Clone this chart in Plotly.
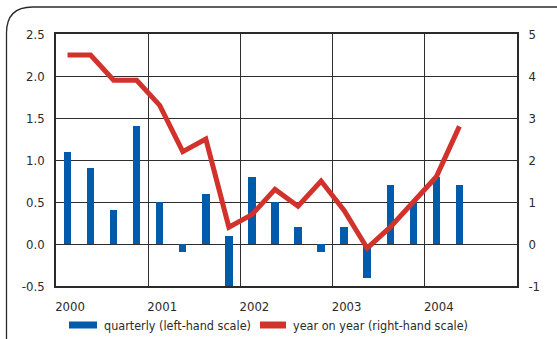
import plotly.graph_objects as go

# Quarterly growth (left scale) and year-on-year growth (right scale)
quarters = ["2000Q1", "2000Q2", "2000Q3", "2000Q4",
            "2001Q1", "2001Q2", "2001Q3", "2001Q4",
            "2002Q1", "2002Q2", "2002Q3", "2002Q4",
            "2003Q1", "2003Q2", "2003Q3", "2003Q4",
            "2004Q1", "2004Q2"]
quarterly = [1.1, 0.9, 0.4, 1.4,
             0.5, -0.1, 0.6, -0.7,
             0.8, 0.5, 0.2, -0.1,
             0.2, -0.4, 0.7, 0.5,
             0.8, 0.7]
quarterly_base = [0, 0, 0, 0,
                  0, 0, 0, 0.1,
                  0, 0, 0, 0,
                  0, 0, 0, 0,
                  0, 0]
year_on_year = [4.5, 4.5, 3.9, 3.9,
                3.3, 2.2, 2.5, 0.4,
                0.7, 1.3, 0.9, 1.5,
                0.8, -0.1, 0.4, 1.0,
                1.6, 2.8]
year_ticks = [2000, 2001, 2002, 2003, 2004]
left_ticks = [-0.5, 0.0, 0.5, 1.0, 1.5, 2.0, 2.5]
right_ticks = [-1, 0, 1, 2, 3, 4, 5]
legend_labels = ["quarterly (left-hand scale)", "year on year (right-hand scale)"]

BLUE = "#005BAA"
RED = "#D2322C"
INK = "#2a2a2a"
GRID = "#2e2e2e"
FONT = "Liberation Sans Narrow, DejaVu Sans Condensed, Arial Narrow, sans-serif"

# Page and plot-area geometry in pixels
W, H = 557, 339
L, R, T, B = 56, 517, 34, 286


def qpos(label):
    year, q = label.split("Q")
    return int(year) + (int(q) - 0.5) / 4


def px(x):
    return (x - L) / (R - L)


def py(y):
    return (B - y) / (B - T)


xs = [qpos(q) for q in quarters]

fig = go.Figure()
fig.add_trace(go.Bar(
    x=xs, y=[v - b for v, b in zip(quarterly, quarterly_base)], base=quarterly_base,
    width=0.08, marker=dict(color=BLUE, line=dict(width=0)),
    name=legend_labels[0], showlegend=False, yaxis="y",
))
fig.add_trace(go.Scatter(
    x=xs, y=year_on_year, mode="lines",
    line=dict(color=RED, width=5),
    name=legend_labels[1], showlegend=False, yaxis="y2",
))

# Rounded frame around the chart (top and left edges)
r = 26
frame = (f"M {px(W)},{py(7)} L {px(6.5 + r)},{py(7)} "
         f"Q {px(6.5)},{py(7)} {px(6.5)},{py(7 + r)} L {px(6.5)},{py(H)}")
shapes = [dict(type="path", xref="paper", yref="paper", path=frame,
               line=dict(color=INK, width=1.3), layer="above")]

# Legend built from swatches and labels
annotations = []
legend_items = [(69, 97, 101.5, BLUE, legend_labels[0]),
                (260, 286, 291, RED, legend_labels[1])]
for x0, x1, tx, color, text in legend_items:
    shapes.append(dict(type="rect", xref="paper", yref="paper",
                       x0=px(x0), x1=px(x1), y0=py(328.5), y1=py(321.5),
                       fillcolor=color, line=dict(width=0)))
    annotations.append(dict(x=px(tx), y=py(325), xref="paper", yref="paper",
                            text=text, showarrow=False, xanchor="left", yanchor="middle",
                            font=dict(family=FONT, size=12.5, color=INK)))

fig.update_layout(
    width=W, height=H,
    margin=dict(l=L, r=W - R, t=T, b=H - B, pad=0),
    paper_bgcolor="white", plot_bgcolor="white",
    font=dict(family=FONT, size=13, color=INK),
    showlegend=False,
    bargap=0,
    xaxis=dict(
        range=[2000, 2005], tickvals=year_ticks, ticktext=[str(y) for y in year_ticks],
        showgrid=True, gridcolor=GRID, gridwidth=1,
        showline=True, linecolor=INK, linewidth=1.6, mirror=True,
        ticks="", ticklabelshift=14, ticklabelstandoff=8, zeroline=False,
        fixedrange=True,
    ),
    yaxis=dict(
        range=[-0.5, 2.5], tickvals=left_ticks, ticktext=[f"{v:.1f}" for v in left_ticks],
        showgrid=True, gridcolor=GRID, gridwidth=1,
        showline=True, linecolor=INK, linewidth=1.6,
        ticks="", ticklabelstandoff=7, zeroline=False,
    ),
    yaxis2=dict(
        range=[-1, 5], tickvals=right_ticks, ticktext=[str(v) for v in right_ticks],
        overlaying="y", side="right",
        showgrid=False, showline=True, linecolor=INK, linewidth=1.6,
        ticks="", ticklabelstandoff=7, zeroline=False,
    ),
    shapes=shapes,
    annotations=annotations,
)

fig.write_html("out.html")
